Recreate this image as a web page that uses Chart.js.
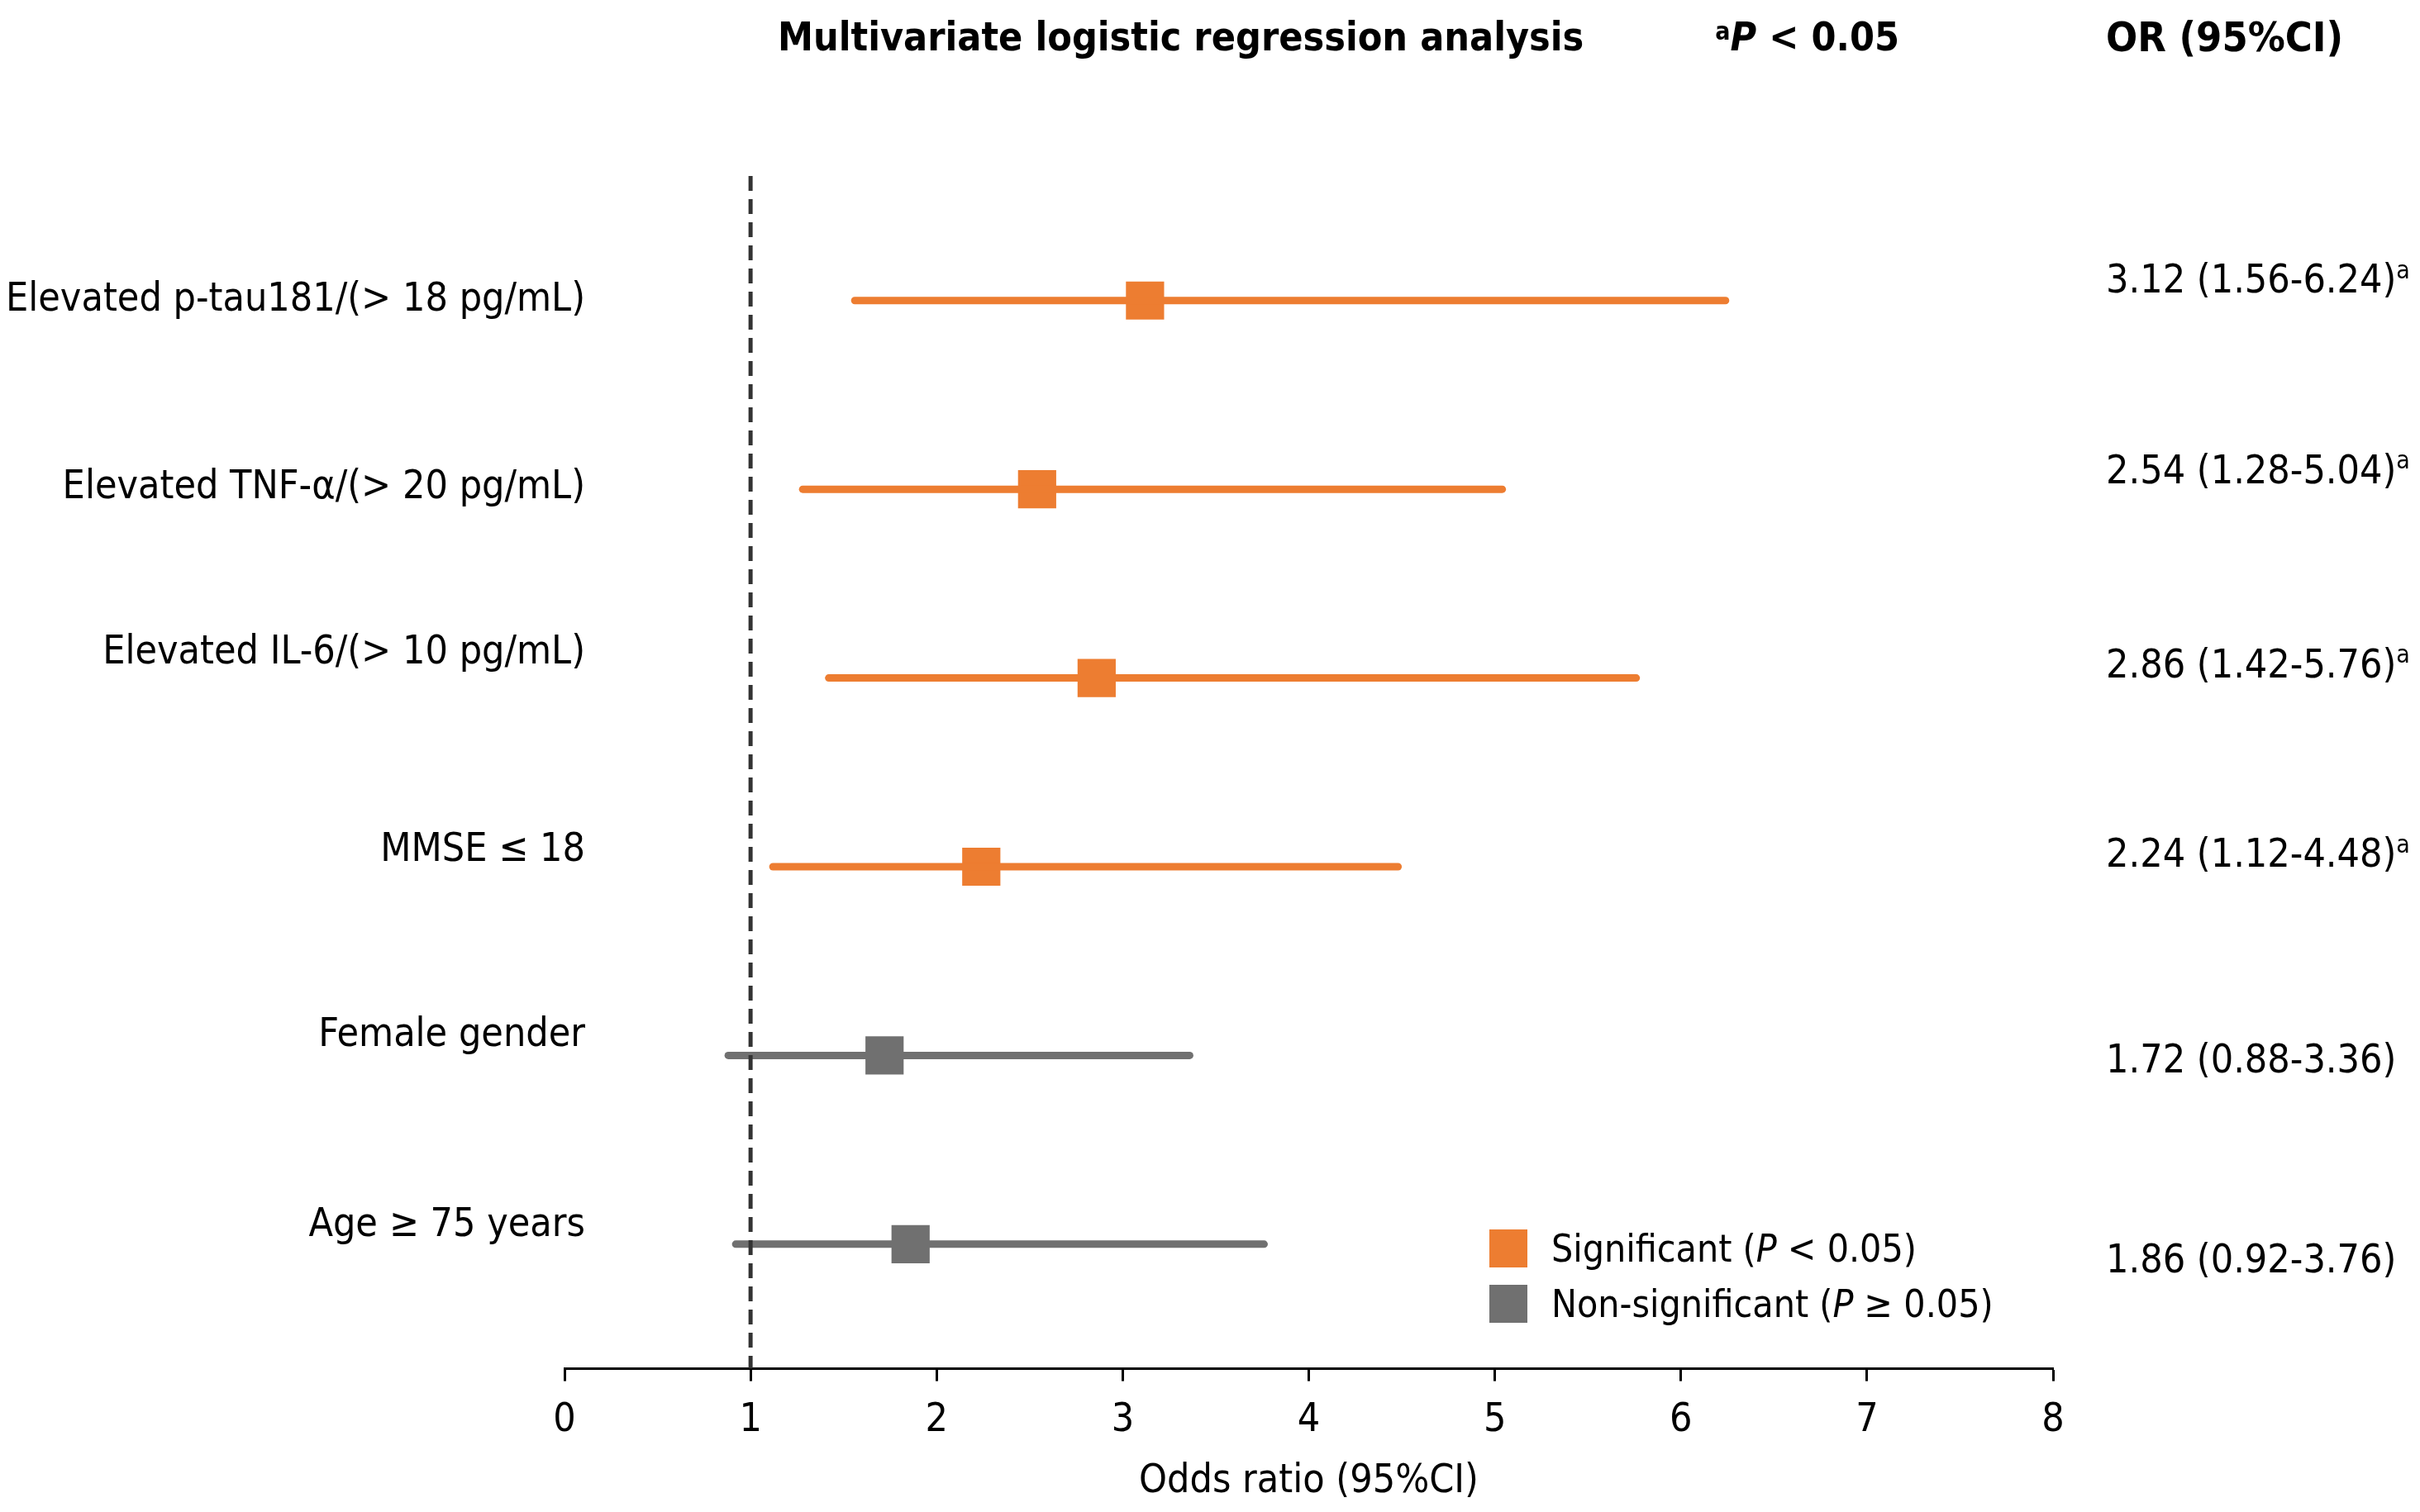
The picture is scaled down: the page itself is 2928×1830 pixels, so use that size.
<!DOCTYPE html>
<html>
<head>
<meta charset="utf-8">
<script src="https://cdn.jsdelivr.net/npm/chart.js@4.4.0/dist/chart.umd.min.js"></script>
<style>
  html, body { margin: 0; padding: 0; background: #fff; }
  #wrap { width: 2928px; height: 1830px; }
</style>
</head>
<body>
<div id="wrap"><canvas id="forest"></canvas></div>
<script>
// data
const factors = [
    "Elevated p-tau181/(> 18 pg/mL)",
    "Elevated TNF-\u03b1/(> 20 pg/mL)",
    "Elevated IL-6/(> 10 pg/mL)",
    "MMSE \u2264 18",
    "Female gender",
    "Age \u2265 75 years"
];
const oddsRatio = [3.12, 2.54, 2.86, 2.24, 1.72, 1.86];
const ciLow     = [1.56, 1.28, 1.42, 1.12, 0.88, 0.92];
const ciHigh    = [6.24, 5.04, 5.76, 4.48, 3.36, 3.76];
const significant = [true, true, true, true, false, false];
const xTicks = [0, 1, 2, 3, 4, 5, 6, 7, 8];
const refLine = 1;

const ORANGE = 'rgb(237, 125, 49)';
const GREY = 'rgb(112, 112, 112)';
const FONT = '"DejaVu Sans Condensed", "DejaVu Sans", sans-serif';
const FS = 48;

// small nudges so the texts sit like in the figure
const labelNudge = [0, -2, -30, -19, -24, -22];
const orNudge = [-22, -20, -13, -12, 8, 22];

let datasets = [];

// reference dashed line at OR = 1
datasets.push({
    type: 'line',
    data: [{x: refLine, y: 0.34}, {x: refLine, y: 6.66}],
    borderColor: '#333333',
    borderWidth: 5,
    borderDash: [18, 10],
    pointRadius: 0,
});

// CI whiskers
for(let i = 0; i < factors.length; i++){
    datasets.push({
        type: 'line',
        data: [{x: ciLow[i], y: i + 1}, {x: ciHigh[i], y: i + 1}],
        borderColor: significant[i] ? ORANGE : GREY,
        borderWidth: 9,
        borderCapStyle: 'round',
        pointRadius: 0,
    });
}

// OR squares
datasets.push({
    type: 'scatter',
    data: oddsRatio.map((v, i) => ({x: v, y: i + 1})),
    pointStyle: 'rect',
    pointRadius: 35.5,
    pointHoverRadius: 35.5,
    backgroundColor: significant.map(s => s ? ORANGE : GREY),
    borderColor: 'white',
    borderWidth: 4,
});

function richText(ctx, parts, x, y, align){
    // parts: [text, weight, style, size, dy]
    let w = 0;
    parts.forEach(p => {
        ctx.font = p[2] + ' ' + p[1] + ' ' + p[3] + 'px ' + FONT;
        w += ctx.measureText(p[0]).width;
    });
    let cx = align === 'right' ? x - w : x;
    parts.forEach(p => {
        ctx.font = p[2] + ' ' + p[1] + ' ' + p[3] + 'px ' + FONT;
        ctx.textAlign = 'left';
        ctx.fillText(p[0], cx, y + p[4]);
        cx += ctx.measureText(p[0]).width;
    });
}

const texts = {
    id: 'texts',
    afterDraw(chart){
        const { ctx } = chart;
        const yS = chart.scales.y;
        ctx.save();
        ctx.fillStyle = '#000';
        ctx.textBaseline = 'middle';

        // header row
        richText(ctx, [["Multivariate logistic regression analysis", 'bold', 'normal', FS, 0]], 941, 49, 'left');
        richText(ctx, [
            ["a", 'bold', 'normal', 30, -9],
            ["P", 'bold', 'italic', FS, 0],
            [" < 0.05", 'bold', 'normal', FS, 0]
        ], 2298, 49, 'right');
        richText(ctx, [["OR (95%CI)", 'bold', 'normal', 50, 0]], 2548, 49, 'left');

        // factor names and OR column
        for(let i = 0; i < factors.length; i++){
            const y = yS.getPixelForValue(i + 1);
            richText(ctx, [[factors[i], 'normal', 'normal', FS, 0]], 708, y + labelNudge[i], 'right');
            let s = oddsRatio[i].toFixed(2) + ' (' + ciLow[i].toFixed(2) + '-' + ciHigh[i].toFixed(2) + ')';
            let parts = [[s, 'normal', 'normal', FS, 0]];
            if(significant[i]) parts.push(["a", 'normal', 'normal', 30, -13]);
            richText(ctx, parts, 2548, y + orNudge[i], 'left');
        }

        // legend
        const leg = [
            [ORANGE, "Significant (", "P", " < 0.05)"],
            [GREY, "Non-significant (", "P", " \u2265 0.05)"]
        ];
        leg.forEach((l, k) => {
            const cy = 1511 + k * 67;
            ctx.fillStyle = l[0];
            ctx.fillRect(1802, cy - 23, 46, 46);
            ctx.fillStyle = '#000';
            richText(ctx, [
                [l[1], 'normal', 'normal', 46, 0],
                [l[2], 'normal', 'italic', 46, 0],
                [l[3], 'normal', 'normal', 46, 0]
            ], 1877, cy + 4, 'left');
        });
        ctx.restore();
    }
};

const config = {
    data: { datasets: datasets },
    options: {
        responsive: true,
        maintainAspectRatio: false,
        animation: false,
        devicePixelRatio: 1,
        layout: {
            padding: { left: 683, right: 444, top: 213, bottom: 10 }
        },
        plugins: {
            legend: { display: false },
            tooltip: { enabled: false },
        },
        scales: {
            y: {
                type: 'linear',
                min: 0.34,
                max: 6.66,
                reverse: true,
                display: false,
            },
            x: {
                type: 'linear',
                min: 0,
                max: 8,
                afterBuildTicks: (axis) => { axis.ticks = xTicks.map(v => ({value: v})); },
                ticks: {
                    color: '#000',
                    padding: 19,
                    font: { family: FONT, size: FS },
                },
                grid: {
                    drawOnChartArea: false,
                    drawTicks: true,
                    tickLength: 15,
                    tickWidth: 3,
                    tickColor: '#000',
                },
                border: { color: '#000', width: 3 },
                title: {
                    display: true,
                    text: 'Odds ratio (95%CI)',
                    color: '#000',
                    font: { family: FONT, size: FS, lineHeight: 1.1 },
                    padding: { top: 0, bottom: 0 },
                },
            }
        }
    },
    plugins: [texts],
};

const chart = new Chart(document.getElementById('forest'), config);
</script>
</body>
</html>
